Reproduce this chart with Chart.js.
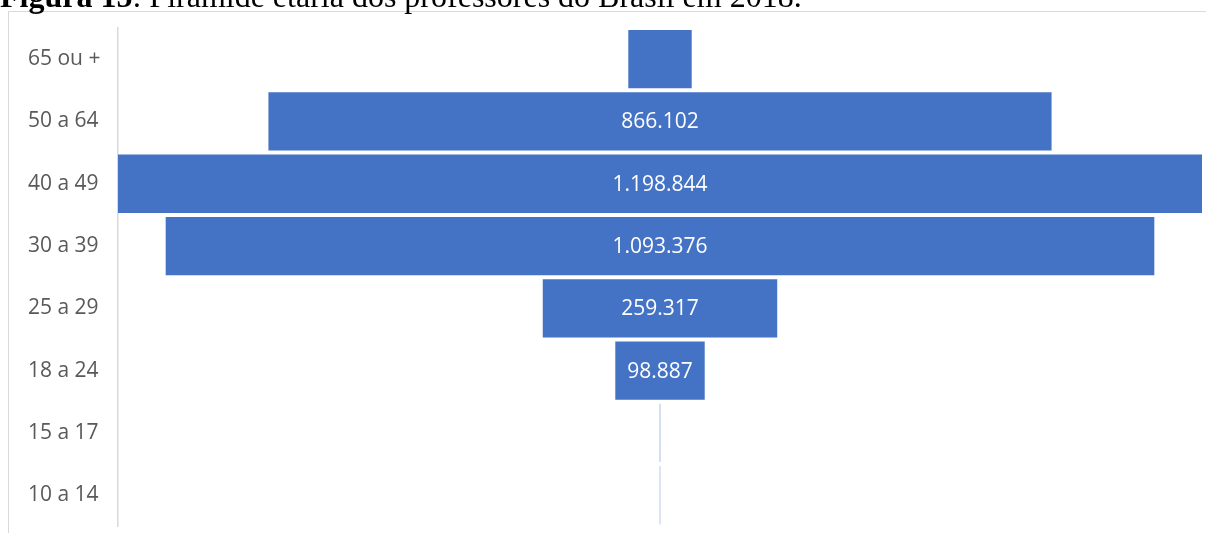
<!DOCTYPE html>
<html lang="pt-BR">
<head>
    <meta charset="UTF-8">
    <title>Pirâmide etária dos professores</title>
    <script src="https://cdn.jsdelivr.net/npm/chart.js"></script>
    <style>
        html, body { margin: 0; padding: 0; background: #fff; overflow: hidden; }
        #wrap { position: relative; width: 1206px; height: 533px; overflow: hidden; }
    </style>
</head>
<body>
    <div id="wrap"><canvas id="funnel" width="1206" height="542"></canvas></div>

    <script>
        // faixas etárias (de cima para baixo) e número de professores
        const faixas = ['65 ou +', '50 a 64', '40 a 49', '30 a 39', '25 a 29', '18 a 24', '15 a 17', '10 a 14'];
        const professores = [70100, 866102, 1198844, 1093376, 259317, 98887, 500, 400];
        const mostrarRotulo = [false, true, true, true, true, true, false, false];

        const maxValor = Math.max(...professores);

        function formatar(v) {
            return v.toString().replace(/\B(?=(\d{3})+(?!\d))/g, '.');
        }

        // título cortado no topo + moldura do gráfico
        const moldura = {
            id: 'moldura',
            beforeDraw(chart) {
                const ctx = chart.ctx;
                ctx.save();
                ctx.fillStyle = '#fff';
                ctx.fillRect(0, 0, chart.width, chart.height);
                ctx.strokeStyle = '#d9d9d9';
                ctx.lineWidth = 1;
                ctx.beginPath();
                ctx.moveTo(8.5, chart.height);
                ctx.lineTo(8.5, 11.5);
                ctx.lineTo(chart.width, 11.5);
                ctx.stroke();

                ctx.fillStyle = '#000';
                ctx.textBaseline = 'alphabetic';
                ctx.textAlign = 'left';
                ctx.font = 'bold 32px "Liberation Serif"';
                const t1 = 'Figura 15';
                ctx.fillText(t1, 0, 7);
                const w = ctx.measureText(t1).width;
                ctx.font = '32px "Liberation Serif"';
                ctx.fillText(': Pirâmide etária dos professores do Brasil em 2018.', w, 7);
                ctx.restore();
            }
        };

        const rotulos = {
            id: 'rotulos',
            afterDatasetsDraw(chart) {
                const ctx = chart.ctx;
                const meta = chart.getDatasetMeta(0);
                ctx.save();
                ctx.fillStyle = '#fff';
                ctx.font = '21px "Open Sans"';
                ctx.textAlign = 'center';
                ctx.textBaseline = 'middle';
                meta.data.forEach((bar, i) => {
                    if (!mostrarRotulo[i]) return;
                    const cx = (bar.x + bar.base) / 2;
                    ctx.fillText(formatar(professores[i]), cx, bar.y + 1);
                });
                ctx.restore();
            }
        };

        new Chart(document.getElementById('funnel'), {
            type: 'bar',
            data: {
                labels: faixas,
                datasets: [{
                    data: professores.map(v => [-v / 2, v / 2]),
                    backgroundColor: '#4472c4',
                    borderWidth: 0,
                    barPercentage: 1,
                    categoryPercentage: 0.935
                }]
            },
            options: {
                indexAxis: 'y',
                responsive: false,
                animation: false,
                layout: { padding: { left: 28, right: 4, top: 28, bottom: 0 } },
                plugins: {
                    legend: { display: false },
                    tooltip: { enabled: false }
                },
                scales: {
                    x: {
                        display: false,
                        min: -maxValor / 2,
                        max: maxValor / 2
                    },
                    y: {
                        afterFit(scale) { scale.width = 90; },
                        grid: { display: false },
                        border: { display: true, color: '#d9d9d9', width: 1.5 },
                        ticks: {
                            crossAlign: 'far',
                            color: '#595959',
                            font: { family: 'Open Sans', size: 21 }
                        }
                    }
                }
            },
            plugins: [moldura, rotulos]
        });
    </script>
</body>
</html>
